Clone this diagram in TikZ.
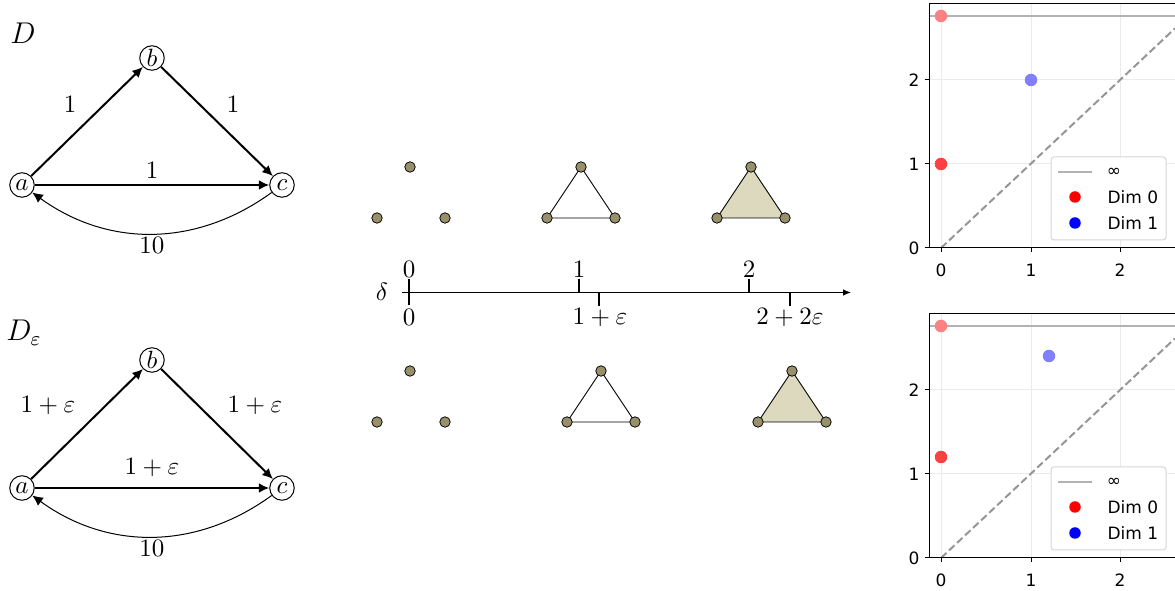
\documentclass[tikz,border=0pt]{standalone}
\usepackage{fontspec}
\newfontfamily\plotfont{DejaVu Sans}
\usetikzlibrary{arrows.meta}
\definecolor{dotc}{RGB}{152,144,106}
\definecolor{trif}{RGB}{220,217,190}
\definecolor{infc}{RGB}{178,178,178}
\definecolor{diagc}{RGB}{150,150,150}
\definecolor{gridc}{RGB}{235,235,235}
\definecolor{legc}{RGB}{214,214,214}
\definecolor{ptred}{RGB}{255,64,64}
\definecolor{ptpink}{RGB}{255,128,128}
\definecolor{ptblue}{RGB}{128,128,255}
\begin{document}
\begin{tikzpicture}[x=0.4pt,y=-0.4pt,
  vert/.style={circle,draw,line width=0.4pt,minimum size=9.8pt,inner sep=0pt},
  edge/.style={line width=0.8pt,-{Latex[length=4.2pt,width=4pt]}},
  backedge/.style={line width=0.4pt,-{Latex[length=4.2pt,width=4pt]}},
  lbl/.style={inner sep=0pt},
  dotn/.style={circle,draw=black,line width=0.3pt,fill=dotc,minimum size=4.2pt,inner sep=0pt},
  triedge/.style={line width=0.35pt,draw=black},
  tick/.style={line width=0.8pt},
  plt/.style={font=\plotfont\fontsize{6.8}{8}\selectfont,inner sep=0pt},
  pp/.style={circle,minimum size=5pt,inner sep=0pt},
  lp/.style={circle,minimum size=4.6pt,inner sep=0pt}]
\useasboundingbox (0,0) rectangle (1175,591);

% ---------- Graph D ----------
\node[lbl,font=\large] (labD) at (23,33) {$D$};
\node[vert] (aT) at (22,185) {$a$};
\node[vert] (bT) at (152,58) {$b$};
\node[vert] (cT) at (282,185) {$c$};
\draw[edge] (aT) -- (bT);
\draw[edge] (bT) -- (cT);
\draw[edge] (aT) -- (cT);
\draw[backedge] (cT) to[bend left=36] (aT);
\node[lbl] (wT1) at (70,104) {$1$};
\node[lbl] (wT2) at (233,104) {$1$};
\node[lbl] (wT3) at (152,170) {$1$};
\node[lbl] (wT4) at (152,245) {$10$};

% ---------- Graph D_eps ----------
\node[lbl,font=\large] (labDe) at (24,333) {$D_\varepsilon$};
\node[vert] (aB) at (22,488) {$a$};
\node[vert] (bB) at (152,360) {$b$};
\node[vert] (cB) at (282,488) {$c$};
\draw[edge] (aB) -- (bB);
\draw[edge] (bB) -- (cB);
\draw[edge] (aB) -- (cB);
\draw[backedge] (cB) to[bend left=36] (aB);
\node[lbl] (wB1) at (48,405) {$1+\varepsilon$};
\node[lbl] (wB2) at (255,405) {$1+\varepsilon$};
\node[lbl] (wB3) at (152,467) {$1+\varepsilon$};
\node[lbl] (wB4) at (152,548) {$10$};

% ---------- Complexes, top row ----------
\node[dotn] (s0a) at (410,167) {};
\node[dotn] (s0b) at (377,218) {};
\node[dotn] (s0c) at (445,218) {};
\coordinate (u1a) at (581,167);
\coordinate (u1b) at (547,218);
\coordinate (u1c) at (615,218);
\draw[triedge] (u1a) -- (u1b) -- (u1c) -- cycle;
\node[dotn] (s1a) at (u1a) {};
\node[dotn] (s1b) at (u1b) {};
\node[dotn] (s1c) at (u1c) {};
\coordinate (u2a) at (751,167);
\coordinate (u2b) at (717,218);
\coordinate (u2c) at (785,218);
\draw[triedge,fill=trif] (u2a) -- (u2b) -- (u2c) -- cycle;
\node[dotn] (s2a) at (u2a) {};
\node[dotn] (s2b) at (u2b) {};
\node[dotn] (s2c) at (u2c) {};

% ---------- Axis ----------
\coordinate (axs) at (402,292.5);
\coordinate (axe) at (851,292.5);
\draw[line width=0.4pt,-{Latex[length=3.2pt,width=2.6pt]}] (axs) -- (axe);
\node[lbl] (delta) at (382,292) {$\delta$};
\coordinate (k0t) at (409,279); \coordinate (k0b) at (409,305);
\draw[tick] (k0t) -- (k0b);
\coordinate (k1t) at (579,279); \coordinate (k1b) at (579,292.5);
\draw[tick] (k1t) -- (k1b);
\coordinate (k2t) at (749,279); \coordinate (k2b) at (749,292.5);
\draw[tick] (k2t) -- (k2b);
\coordinate (k3t) at (599,292.5); \coordinate (k3b) at (599,306);
\draw[tick] (k3t) -- (k3b);
\coordinate (k4t) at (790,292.5); \coordinate (k4b) at (790,306);
\draw[tick] (k4t) -- (k4b);
\node[lbl] (t0u) at (409,269) {$0$};
\node[lbl] (t1u) at (579,269) {$1$};
\node[lbl] (t2u) at (749,269) {$2$};
\node[lbl] (t0d) at (409,317) {$0$};
\node[lbl] (t1d) at (600,317) {$1+\varepsilon$};
\node[lbl] (t2d) at (790,317) {$2+2\varepsilon$};

% ---------- Complexes, bottom row ----------
\node[dotn] (r0a) at (410,371) {};
\node[dotn] (r0b) at (377,422) {};
\node[dotn] (r0c) at (445,422) {};
\coordinate (v1a) at (601,371);
\coordinate (v1b) at (567,422);
\coordinate (v1c) at (635,422);
\draw[triedge] (v1a) -- (v1b) -- (v1c) -- cycle;
\node[dotn] (r1a) at (v1a) {};
\node[dotn] (r1b) at (v1b) {};
\node[dotn] (r1c) at (v1c) {};
\coordinate (v2a) at (792,371);
\coordinate (v2b) at (758,422);
\coordinate (v2c) at (826,422);
\draw[triedge,fill=trif] (v2a) -- (v2b) -- (v2c) -- cycle;
\node[dotn] (r2a) at (v2a) {};
\node[dotn] (r2b) at (v2b) {};
\node[dotn] (r2c) at (v2c) {};

% ---------- Persistence diagrams ----------
\foreach \o/\ry/\bx/\by/\n in {0/164/1031/80/t, 310/147/1049/46/b} {
\begin{scope}[shift={(0,\o)}]
  \draw[gridc,line width=0.4pt] (941,4) -- (941,248);
  \draw[gridc,line width=0.4pt] (1031,4) -- (1031,248);
  \draw[gridc,line width=0.4pt] (1120,4) -- (1120,248);
  \draw[gridc,line width=0.4pt] (929,80) -- (1175,80);
  \draw[gridc,line width=0.4pt] (929,164) -- (1175,164);
  \draw[infc,line width=0.8pt] (929,16) -- (1175,16);
  \draw[diagc,line width=0.8pt,dash pattern=on 3pt off 1.4pt] (941,248) -- (1175,28.4);
  \node[pp,fill=ptpink] (pinf\n) at (941,16) {};
  \node[pp,fill=ptred] (pred\n) at (941,\ry) {};
  \node[pp,fill=ptblue] (pblue\n) at (\bx,\by) {};
  \draw[line width=0.4pt] (1175,4) -- (929,4) -- (929,248) -- (1175,248);
  \foreach \yy/\yl in {248/0,164/1,80/2} {
    \draw[line width=0.4pt] (924.5,\yy) -- (929,\yy);
    \node[plt,anchor=east] (yl\n\yl) at (920,\yy) {\yl};
  }
  \foreach \xx/\xl in {941/0,1031/1,1120/2} {
    \draw[line width=0.4pt] (\xx,248) -- (\xx,252.5);
    \node[plt] (xl\n\xl) at (\xx,270) {\xl};
  }
  \draw[legc,fill=white,rounded corners=1.2pt,line width=0.4pt] (1051,157) rectangle (1166,240);
  \draw[infc,line width=0.8pt] (1058,172) -- (1092,172);
  \node[plt] (linf\n) at (1114,172) {∞};
  \node[lp,fill=red] (lred\n) at (1075,197) {};
  \node[plt,anchor=west] (ld0\n) at (1107,197) {Dim 0};
  \node[lp,fill=blue] (lblue\n) at (1075,223) {};
  \node[plt,anchor=west] (ld1\n) at (1107,223) {Dim 1};
\end{scope}
}
\end{tikzpicture}
\end{document}
